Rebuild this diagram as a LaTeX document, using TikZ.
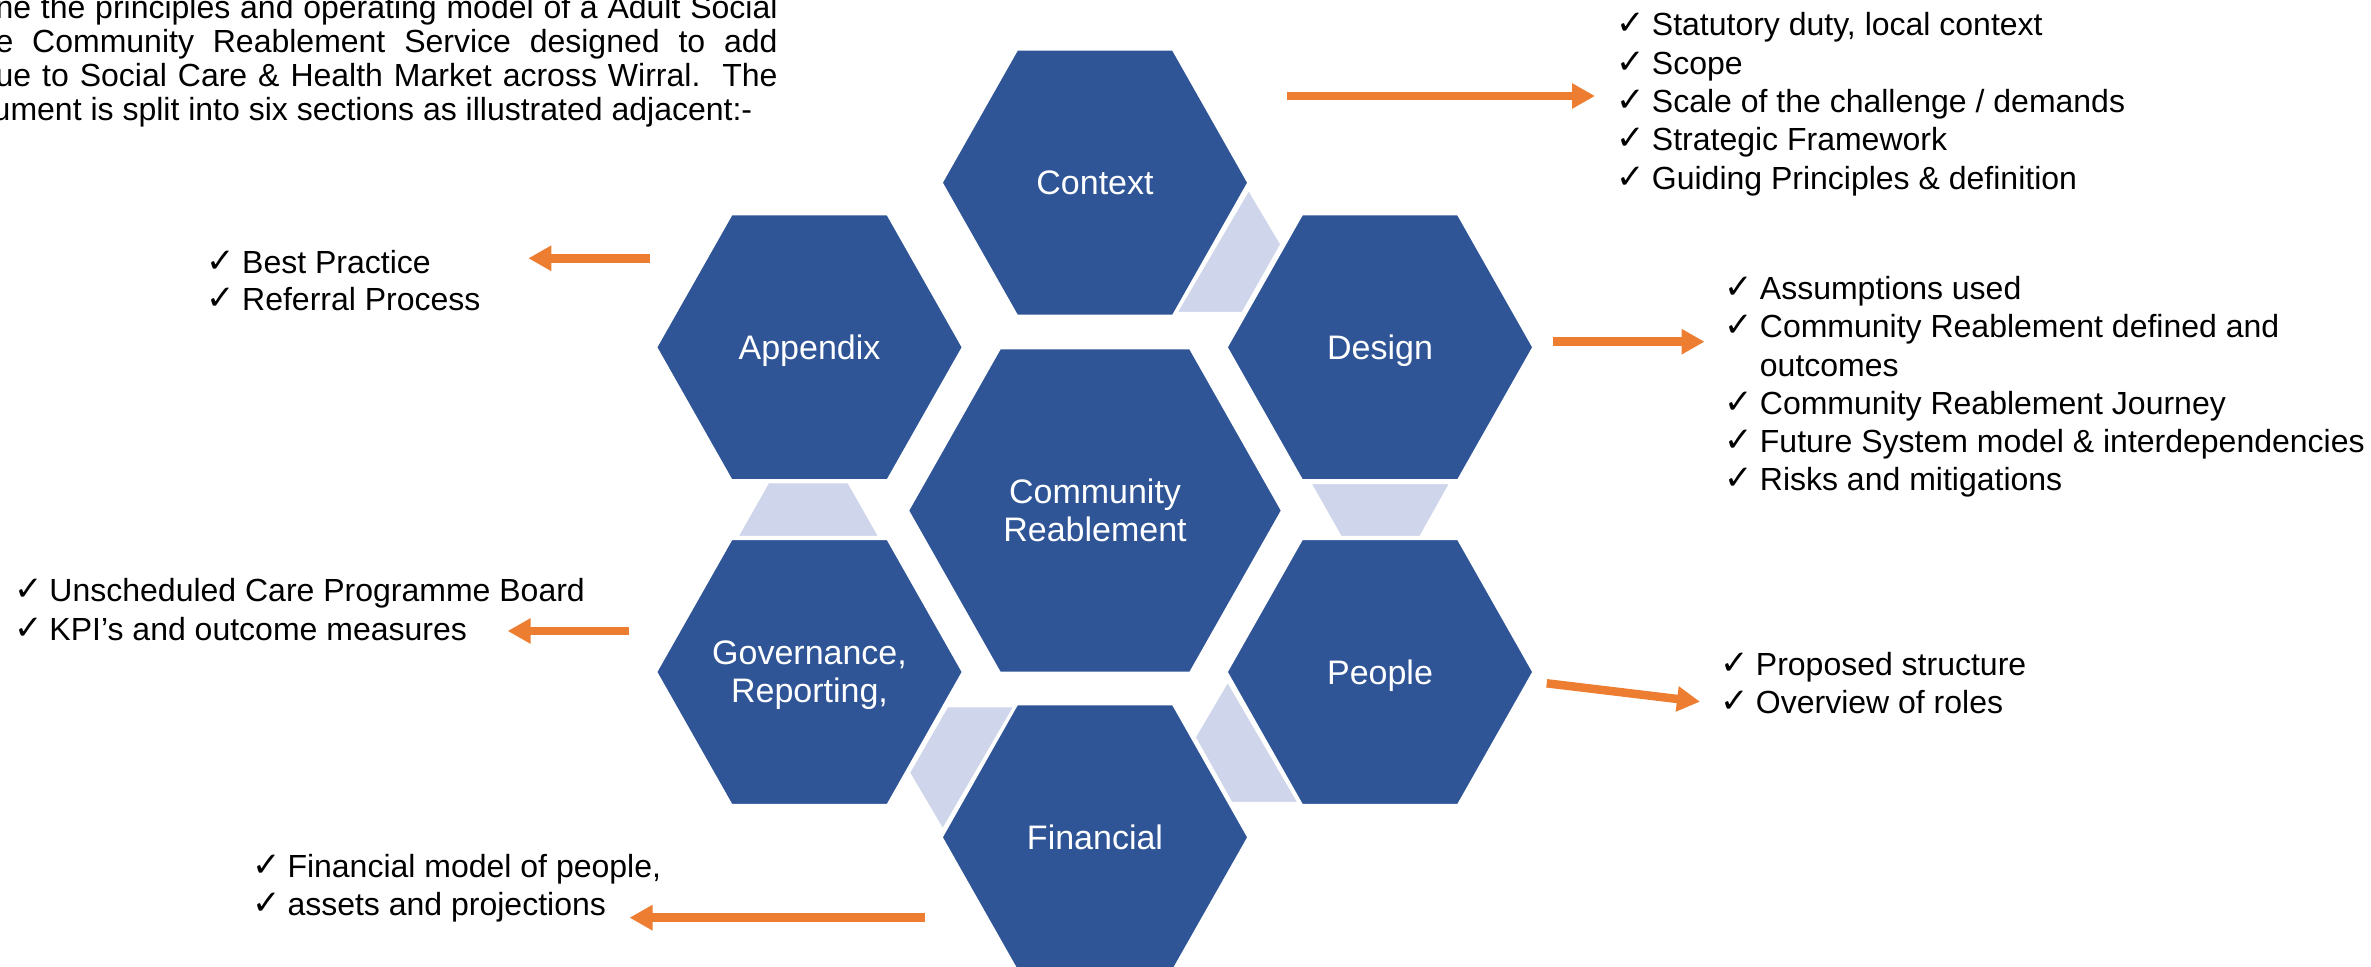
\documentclass[tikz,border=0pt]{standalone}
\usepackage{fontspec}
\setmainfont{Liberation Sans}
\newfontfamily\checkfont{DejaVu Sans}
\usetikzlibrary{arrows.meta}

\definecolor{hexblue}{HTML}{2F5597}
\definecolor{linkfill}{HTML}{CFD5EA}
\definecolor{arroworange}{HTML}{ED7D31}

% one tick plus the gap before the item text
\newcommand\chk{\makebox[16.75pt][l]{\hspace{-1pt}\raisebox{0.5pt}{\checkfont\fontsize{17}{17}\selectfont ✓}}}

% flat-topped hexagon with a named label node at its centre
% #1 name, #2 x, #3 y, #4 scale, #5 label
\newcommand\hexcell[5]{%
  \path[hexfill] ({#2-153*#4},{#3}) -- ({#2-77.8*#4},{#3-132.7*#4})
    -- ({#2+77.8*#4},{#3-132.7*#4}) -- ({#2+153*#4},{#3})
    -- ({#2+77.8*#4},{#3+132.7*#4}) -- ({#2-77.8*#4},{#3+132.7*#4}) -- cycle;
  \node[hexlabel] (#1) at (#2,#3) {#5};}

\tikzset{
  hexfill/.style={fill=hexblue, draw=white, line width=0.75pt},
  linkfill/.style={fill=linkfill, draw=white, line width=0.75pt},
  hexlabel/.style={text=white, align=center, inner sep=0pt, text depth=0pt,
    font=\fontsize{17}{19}\selectfont},
  listline/.style={anchor=base west, inner sep=0pt, text=black,
    font=\fontsize{16}{19}\selectfont},
  paraline/.style={anchor=base east, inner sep=0pt, text=black,
    font=\fontsize{16}{17}\selectfont},
  flow/.style={draw=arroworange, line width=4.25pt,
    -{Triangle[length=11.5pt,width=12pt]}},
}

\begin{document}
\begin{tikzpicture}[x=0.5pt,y=-0.5pt]
\useasboundingbox (0,0) rectangle (2371,967);

% introductory paragraph (justified lines)
\node[paraline] (p1) at (778,19) {\makebox[391pt][s]{ne the principles and operating model of a Adult Social}};
\node[paraline] (p2) at (778,53) {\makebox[391pt][s]{e Community Reablement Service designed to add}};
\node[paraline] (p3) at (778,87) {\makebox[391pt][s]{ue to Social Care \& Health Market across Wirral.\ \ The}};
\node[paraline] (p4) at (752.6,121) {ument is split into six sections as illustrated adjacent:-};

% light links between neighbouring sections
\fill[linkfill] (1248.7,190) -- (1281,244.3) -- (1242.3,312.7) -- (1176.7,312.7) -- cycle;
\fill[linkfill] (1310.7,483.3) -- (1450,483.3) -- (1420,536.7) -- (1341,536.7) -- cycle;
\fill[linkfill] (1227.7,681.7) -- (1298.3,802.7) -- (1231.7,802.7) -- (1195,737.3) -- cycle;
\fill[linkfill] (947.3,706.7) -- (1014,706.7) -- (942.7,829.3) -- (909.3,772.7) -- cycle;
\fill[linkfill] (768.3,482.7) -- (848.3,482.7) -- (879,536.7) -- (737.7,536.7) -- cycle;

% hexagons
\hexcell{ctx}{1095}{182.7}{1}{Context}
\hexcell{app}{809.5}{347.3}{1}{Appendix}
\hexcell{des}{1380}{347.3}{1}{Design}
\hexcell{cen}{1095}{510.6}{1.22}{Community\\Reablement}
\hexcell{gov}{809.5}{672}{1}{Governance,\\\raisebox{0pt}[\height][0pt]{Reporting,}}
\hexcell{peo}{1380}{672}{1}{People}
\hexcell{fin}{1095}{837.3}{1}{Financial}

% arrow end points
\coordinate (ctxA) at (1287,96);    \coordinate (ctxB) at (1595,96);
\coordinate (desA) at (1552.6,341.7); \coordinate (desB) at (1704.5,341.7);
\coordinate (appA) at (650,258.3);  \coordinate (appB) at (528.3,258.3);
\coordinate (govA) at (628.6,631);  \coordinate (govB) at (507.6,631);
\coordinate (peoA) at (1546.7,683.3); \coordinate (peoB) at (1700,701.7);
\coordinate (finA) at (925,917.7);  \coordinate (finB) at (629.5,917.7);

\draw[flow] (ctxA) -- (ctxB);
\draw[flow] (desA) -- (desB);
\draw[flow] (appA) -- (appB);
\draw[flow] (govA) -- (govB);
\draw[flow] (peoA) -- (peoB);
\draw[flow] (finA) -- (finB);

% Context items
\node[listline] (ctx1) at (1618,36)    {\chk Statutory duty, local context};
\node[listline] (ctx2) at (1618,74.3)  {\chk Scope};
\node[listline] (ctx3) at (1618,112.6) {\chk Scale of the challenge / demands};
\node[listline] (ctx4) at (1618,151)   {\chk Strategic Framework};
\node[listline] (ctx5) at (1618,189.3) {\chk Guiding Principles \& definition};

% Design items
\node[listline] (des1) at (1726,299.5) {\chk Assumptions used};
\node[listline] (des2) at (1726,337.8) {\chk Community Reablement defined and};
\node[listline] (des2b) at (1759.5,376.1) {outcomes};
\node[listline] (des3) at (1726,414.4) {\chk Community Reablement Journey};
\node[listline] (des4) at (1726,452.7) {\chk Future System model \& interdependencies};
\node[listline] (des5) at (1726,491)   {\chk Risks and mitigations};

% Appendix items
\node[listline] (app1) at (208.3,273.3) {\chk Best Practice};
\node[listline] (app2) at (208.3,310.5) {\chk Referral Process};

% Governance items
\node[listline] (gov1) at (15.6,601.7) {\chk Unscheduled Care Programme Board};
\node[listline] (gov2) at (15.6,640)   {\chk KPI’s and outcome measures};

% People items
\node[listline] (peo1) at (1722,675)   {\chk Proposed structure};
\node[listline] (peo2) at (1722,713.3) {\chk Overview of roles};

% Financial items
\node[listline] (fin1) at (253.6,877.3) {\chk Financial model of people,};
\node[listline] (fin2) at (253.6,915.3) {\chk assets and projections};
\end{tikzpicture}
\end{document}
